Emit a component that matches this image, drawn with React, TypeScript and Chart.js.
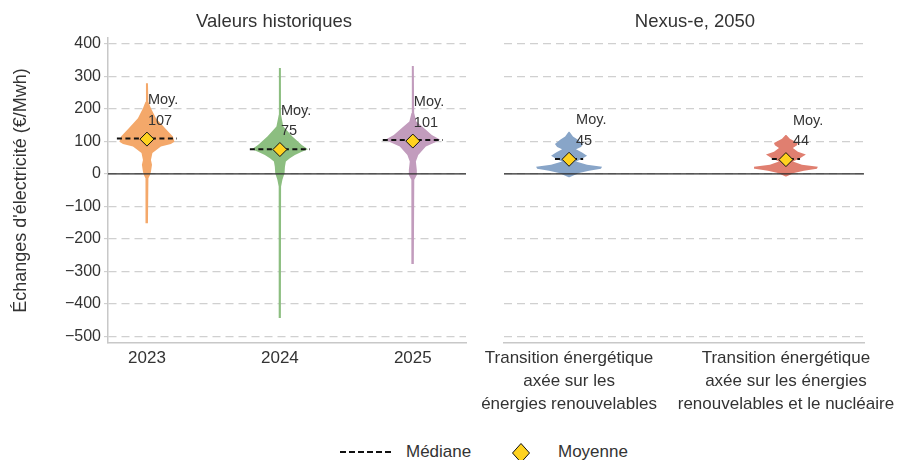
import React, { useEffect, useRef } from 'react';
import { Chart, registerables } from 'chart.js';

Chart.register(...registerables);

const FONT = '"Liberation Sans", Arial, Helvetica, sans-serif';
const TEXT = '#333333';
const GRID = '#d0d0d0';
const SPINE = '#c8c8c8';

// ---------- Data ----------
const histCategories = ['2023', '2024', '2025'];
const histMeans = [107, 75, 101];
const histMedians = [109, 76, 104];
const histColors = ['#F4A86A', '#8CBE80', '#C29CBD'];

const scenarioCategories = [
  ['Transition énergétique', 'axée sur les', 'énergies renouvelables'],
  ['Transition énergétique', 'axée sur les énergies', 'renouvelables et le nucléaire'],
];
const scenarioMeans = [45, 44];
const scenarioMedians = [46, 46];
const scenarioColors = ['#88A5C8', '#E07F70'];

// violin profiles: price levels (€/MWh) and half-widths of the density (category units)
const v2023Levels = [279, 222, 202, 171, 141, 115, 99, 92, 84, 64, 43, 28, 7, -3, -13, -152];
const v2023Widths = [0.0075, 0.011, 0.03, 0.068, 0.135, 0.195, 0.207, 0.18, 0.105, 0.041, 0.03, 0.038, 0.03, 0.023, 0.011, 0.0075];

const v2024Levels = [326, 182, 146, 115, 89, 76, 68, 58, 48, 38, 22, 2, -18, -39, -443];
const v2024Widths = [0.0075, 0.0085, 0.026, 0.094, 0.165, 0.211, 0.165, 0.113, 0.075, 0.045, 0.038, 0.035, 0.019, 0.009, 0.0075];

const v2025Levels = [332, 187, 161, 141, 120, 105, 97, 84, 58, 38, 12, -3, -18, -277];
const v2025Widths = [0.0075, 0.01, 0.026, 0.083, 0.143, 0.207, 0.165, 0.098, 0.041, 0.023, 0.03, 0.03, 0.011, 0.0075];

const vRenewLevels = [130, 115, 105, 92, 83, 76, 66, 56, 47, 38, 28, 22, 16, 10, 3, -10];
const vRenewWidths = [0.002, 0.018, 0.041, 0.065, 0.055, 0.032, 0.06, 0.083, 0.06, 0.032, 0.083, 0.152, 0.147, 0.092, 0.046, 0.002];

const vNuclLevels = [120, 108, 95, 88, 80, 68, 60, 48, 38, 28, 22, 16, 10, 3, -8];
const vNuclWidths = [0.002, 0.018, 0.055, 0.051, 0.032, 0.055, 0.092, 0.065, 0.032, 0.074, 0.147, 0.143, 0.083, 0.037, 0.002];

const yTicks = [-500, -400, -300, -200, -100, 0, 100, 200, 300, 400];
const yMin = -520;
const yMax = 418;

// ---------- helpers ----------
function violinPoints(center: number, levels: number[], widths: number[]) {
  const right = levels.map((v, i) => ({ x: center + widths[i], y: v }));
  const left = levels.map((v, i) => ({ x: center - widths[i], y: v })).reverse();
  return [...right, ...left];
}

const meanLabelPlugin = {
  id: 'meanLabels',
  afterDatasetsDraw(chart: any, _args: any, opts: any) {
    const { ctx, scales } = chart;
    const x = scales.x;
    const y = scales.y;
    ctx.save();
    ctx.font = `14.5px ${FONT}`;
    ctx.fillStyle = TEXT;
    ctx.textAlign = 'left';
    ctx.textBaseline = 'middle';
    (opts.means as number[]).forEach((m, i) => {
      const px = x.getPixelForValue(i) + opts.dx;
      const py = y.getPixelForValue(m);
      ctx.fillText('Moy.', px, py - 39);
      ctx.fillText(String(m), px, py - 18.5);
    });
    ctx.restore();
  },
};

const panelTitlePlugin = {
  id: 'panelTitle',
  afterDraw(chart: any, _args: any, opts: any) {
    const { ctx, chartArea } = chart;
    ctx.save();
    ctx.font = `18.5px ${FONT}`;
    ctx.fillStyle = TEXT;
    ctx.textAlign = 'center';
    ctx.textBaseline = 'middle';
    ctx.fillText(opts.text, (chartArea.left + chartArea.right) / 2 + opts.dx, 22);
    ctx.restore();
  },
};

interface PanelSpec {
  title: string;
  titleDx: number;
  categories: (string | string[])[];
  means: number[];
  medians: number[];
  colors: string[];
  profiles: { levels: number[]; widths: number[] }[];
  xMin: number;
  xMax: number;
  medianHalf: number;
  labelDx: number;
  showYAxis: boolean;
  yAxisWidth: number;
  padRight: number;
}

function makeConfig(p: PanelSpec): any {
  const catIdx = p.categories.map((_, i) => i);
  const datasets: any[] = [];
  p.profiles.forEach((prof, i) => {
    datasets.push({
      data: violinPoints(i, prof.levels, prof.widths),
      showLine: true,
      fill: 'shape',
      backgroundColor: p.colors[i],
      borderColor: p.colors[i],
      borderWidth: 0,
      pointRadius: 0,
      tension: 0,
      order: 10,
    });
  });
  datasets.push({
    data: [{ x: p.xMin, y: 0 }, { x: p.xMax, y: 0 }],
    showLine: true,
    borderColor: '#2a2a2a',
    borderWidth: 1.3,
    pointRadius: 0,
    fill: false,
    order: 5,
  });
  p.medians.forEach((m, i) => {
    datasets.push({
      data: [{ x: i - p.medianHalf, y: m }, { x: i + p.medianHalf, y: m }],
      showLine: true,
      borderColor: '#111111',
      borderWidth: 2,
      borderDash: [5, 3.5],
      pointRadius: 0,
      fill: false,
      order: 3,
    });
  });
  datasets.push({
    data: p.means.map((m, i) => ({ x: i, y: m })),
    showLine: false,
    pointStyle: 'rectRot',
    pointRadius: 7,
    pointBackgroundColor: '#FFD21F',
    pointBorderColor: '#111111',
    pointBorderWidth: 1,
    order: 1,
  });

  return {
    type: 'scatter',
    data: { datasets },
    plugins: [meanLabelPlugin, panelTitlePlugin],
    options: {
      responsive: false,
      animation: false,
      events: [],
      layout: { padding: { top: 38, right: p.padRight, left: 0, bottom: 0 } },
      plugins: {
        legend: { display: false },
        tooltip: { enabled: false },
        title: { display: false },
        meanLabels: { means: p.means, dx: p.labelDx },
        panelTitle: { text: p.title, dx: p.titleDx },
      },
      scales: {
        x: {
          type: 'linear',
          min: p.xMin,
          max: p.xMax,
          afterBuildTicks: (scale: any) => {
            scale.ticks = catIdx.map((v) => ({ value: v }));
          },
          afterFit: (scale: any) => {
            scale.height = 97;
            scale.paddingLeft = 0;
            scale.paddingRight = 0;
          },
          grid: { display: false, drawTicks: false },
          border: { display: true, color: SPINE, width: 1.5 },
          ticks: {
            autoSkip: false,
            maxRotation: 0,
            minRotation: 0,
            padding: 4,
            color: TEXT,
            font: { family: FONT, size: 17, lineHeight: 1.35 },
            callback: (v: number) => p.categories[Math.round(v)] ?? '',
          },
        },
        y: {
          type: 'linear',
          min: yMin,
          max: yMax,
          afterBuildTicks: (scale: any) => {
            scale.ticks = yTicks.map((v) => ({ value: v }));
          },
          afterFit: (scale: any) => {
            scale.width = p.yAxisWidth;
          },
          grid: {
            color: GRID,
            lineWidth: 1.3,
            drawTicks: p.showYAxis,
            tickLength: 4,
            tickColor: SPINE,
            tickWidth: 1,
            tickBorderDash: [],
          },
          border: { display: p.showYAxis, color: SPINE, width: 1.5, dash: [8, 5] },
          title: {
            display: p.showYAxis,
            text: "Échanges d'électricité (€/Mwh)",
            color: TEXT,
            font: { family: FONT, size: 18 },
            padding: { top: 10, bottom: 0 },
          },
          ticks: {
            display: p.showYAxis,
            padding: 3,
            color: TEXT,
            font: { family: FONT, size: 16 },
            callback: (v: number) => (v < 0 ? '\u2212' + Math.abs(v) : String(v)),
          },
        },
      },
    },
  };
}

const histPanel: PanelSpec = {
  title: 'Valeurs historiques',
  titleDx: -13,
  categories: histCategories,
  means: histMeans,
  medians: histMedians,
  colors: histColors,
  profiles: [
    { levels: v2023Levels, widths: v2023Widths },
    { levels: v2024Levels, widths: v2024Widths },
    { levels: v2025Levels, widths: v2025Widths },
  ],
  xMin: -0.293,
  xMax: 2.4,
  medianHalf: 0.226,
  labelDx: 1,
  showYAxis: true,
  yAxisWidth: 108,
  padRight: 14,
};

const scenarioPanel: PanelSpec = {
  title: 'Nexus-e, 2050',
  titleDx: 11,
  categories: scenarioCategories,
  means: scenarioMeans,
  medians: scenarioMedians,
  colors: scenarioColors,
  profiles: [
    { levels: vRenewLevels, widths: vRenewWidths },
    { levels: vNuclLevels, widths: vNuclWidths },
  ],
  xMin: -0.3,
  xMax: 1.36,
  medianHalf: 0.065,
  labelDx: 7,
  showYAxis: false,
  yAxisWidth: 24,
  padRight: 34,
};

function Panel({ spec, left, width }: { spec: PanelSpec; left: number; width: number }) {
  const ref = useRef<HTMLCanvasElement>(null);
  useEffect(() => {
    const chart = new Chart(ref.current as HTMLCanvasElement, makeConfig(spec));
    return () => chart.destroy();
  }, []);
  return (
    <canvas
      ref={ref}
      width={width}
      height={440}
      style={{ position: 'absolute', left, top: 0, width, height: 440 }}
    />
  );
}

export default function App() {
  const legendText: React.CSSProperties = {
    position: 'absolute',
    top: 441,
    fontFamily: FONT,
    fontSize: 17,
    color: TEXT,
    lineHeight: '22px',
    whiteSpace: 'nowrap',
  };
  return (
    <div style={{ position: 'absolute', left: 0, top: 0, width: 898, height: 460, background: '#fff', overflow: 'hidden' }}>
      <Panel spec={histPanel} left={0} width={480} />
      <Panel spec={scenarioPanel} left={480} width={418} />
      <div
        style={{
          position: 'absolute',
          left: 340,
          top: 451,
          width: 51,
          height: 0,
          borderTop: '2px dashed #111',
        }}
      />
      <div style={{ ...legendText, left: 406 }}>Médiane</div>
      <svg style={{ position: 'absolute', left: 510, top: 442 }} width={22} height={22} viewBox="0 0 22 22">
        <polygon points="11,1.5 19.5,11 11,20.5 2.5,11" fill="#FFD21F" stroke="#111" strokeWidth={1} />
      </svg>
      <div style={{ ...legendText, left: 558 }}>Moyenne</div>
    </div>
  );
}
